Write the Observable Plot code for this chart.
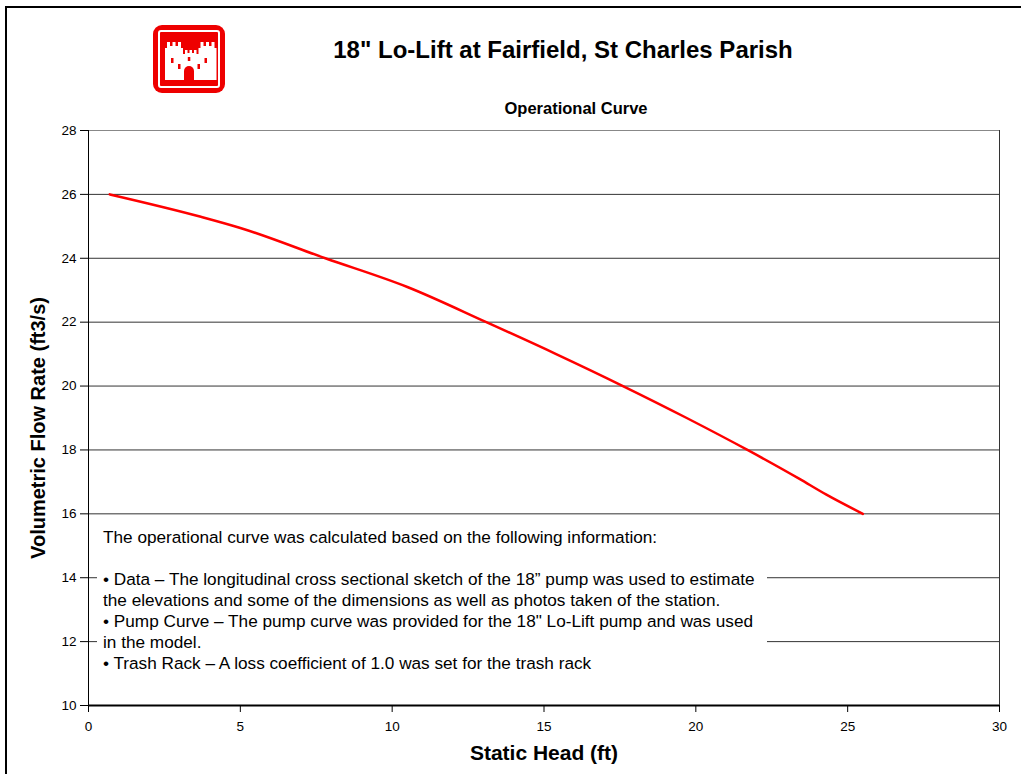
<!DOCTYPE html>
<html><head><meta charset="utf-8">
<script src="https://cdn.jsdelivr.net/npm/d3@7"></script>
<script src="https://cdn.jsdelivr.net/npm/@observablehq/plot@0.6"></script>
<style>
body{margin:0;background:#fff;font-family:"Liberation Sans",Arial,sans-serif;color:#000;}
#wrap{position:relative;width:1021px;height:774px;overflow:hidden;background:#fff;}
#frame{position:absolute;left:5px;top:6px;width:1030px;height:790px;border:2px solid #000;box-sizing:border-box;}
#chart{position:absolute;left:0;top:0;}
.t{position:absolute;white-space:nowrap;font-weight:bold;}
#title{left:563px;top:50px;transform:translate(-50%,-50%);font-size:24px;}
#sub{left:576px;top:108px;transform:translate(-50%,-50%);font-size:16.5px;}
#xl{left:544px;top:753px;transform:translate(-50%,-50%);font-size:21px;}
#yl{left:38px;top:428px;transform:translate(-50%,-50%) rotate(-90deg);font-size:20px;}
#note{position:absolute;left:97px;top:518px;width:670px;height:182px;background:#fff;font-size:17.2px;line-height:21px;padding:9px 0 0 6px;box-sizing:border-box;white-space:nowrap;}
#logo{position:absolute;left:152px;top:24px;}
</style></head><body><div id="wrap">
<div id="frame"></div>
<div id="chart"></div>
<svg id="logo" width="74" height="70" viewBox="0 0 74 70">
  <rect x="1" y="1" width="72" height="68" rx="9" fill="#ee0000"/>
  <rect x="7" y="7" width="60" height="56" rx="2" fill="none" stroke="#fff" stroke-width="2"/>
  <path fill="#fff" d="M13 56 V24 h2 v-6 h3 v4 h2.5 v-4 h3 v4 h2.5 v-4 h3 v6 h2 v6 h2 v-4 h2.5 v3 h2 v-3 h2.5 v3 h2 v-3 h2.5 v4 h2 v-6 h2 v-6 h3 v4 h2.5 v-4 h3 v4 h2.5 v-4 h3 v6 h2 V56 Z"/>
  <path fill="#ee0000" d="M32 56 v-9 a5 5 0 0 1 10 0 v9 Z"/>
  <rect x="19" y="34" width="2.5" height="5" fill="#ee0000"/>
  <rect x="52.5" y="34" width="2.5" height="5" fill="#ee0000"/>
  <rect x="26" y="40" width="2.5" height="5" fill="#ee0000"/>
  <rect x="45.5" y="40" width="2.5" height="5" fill="#ee0000"/>
  <rect x="35.8" y="33" width="2.5" height="4" fill="#ee0000"/>
</svg>
<div class="t" id="title">18" Lo-Lift at Fairfield, St Charles Parish</div>
<div class="t" id="sub">Operational Curve</div>
<div class="t" id="xl">Static Head (ft)</div>
<div class="t" id="yl">Volumetric Flow Rate (ft3/s)</div>
<div id="note">The operational curve was calculated based on the following information:<br><br>• Data – The longitudinal cross sectional sketch of the 18” pump was used to estimate<br>the elevations and some of the dimensions as well as photos taken of the station.<br>• Pump Curve – The pump curve was provided for the 18" Lo-Lift pump and was used<br>in the model.<br>• Trash Rack – A loss coefficient of 1.0 was set for the trash rack</div>
</div>
<script>
const staticHead = [0.7, 3.7, 5.0, 7.8, 10.5, 13.1, 15.4, 17.6, 19.7, 21.7, 23.4, 24.3, 25.5];
const flowRate   = [26.0, 25.3, 24.95, 24.0, 23.1, 22.0, 21.0, 20.0, 19.0, 18.0, 17.1, 16.6, 16.0];
const xTicks = [0, 5, 10, 15, 20, 25, 30];
const yTicks = [10, 12, 14, 16, 18, 20, 22, 24, 26, 28];

const data = staticHead.map((h, i) => ({head: h, flow: flowRate[i]}));

const plot = Plot.plot({
  width: 1021, height: 774,
  marginLeft: 88, marginRight: 22, marginTop: 130, marginBottom: 69,
  style: {fontFamily: '"Liberation Sans", Arial, sans-serif', fontSize: "13px", color: "#000", background: "transparent", overflow: "visible"},
  x: {domain: [0, 30], ticks: xTicks, label: null},
  y: {domain: [10, 28], ticks: yTicks, label: null},
  marks: [
    Plot.gridY(yTicks, {stroke: "#333", strokeOpacity: 1, strokeWidth: 1}),
    Plot.ruleX([30], {stroke: "#333", strokeWidth: 1}),
    Plot.ruleY([28], {stroke: "#888", strokeWidth: 1}),
    Plot.line(data, {x: "head", y: "flow", stroke: "#ff0000", strokeWidth: 2.5, curve: "monotone-x"}),
    Plot.axisX(xTicks, {tickSize: 7, tickPadding: 9, label: null, stroke: "#000", fontSize: 13.5}),
    Plot.axisY(yTicks, {tickSize: 8, tickPadding: 4, label: null, stroke: "#000", fontSize: 13.5}),
    Plot.ruleY([10], {stroke: "#000", strokeWidth: 2}),
    Plot.ruleX([0], {stroke: "#000", strokeWidth: 1})
  ]
});
document.getElementById("chart").appendChild(plot);
</script>
</body></html>
